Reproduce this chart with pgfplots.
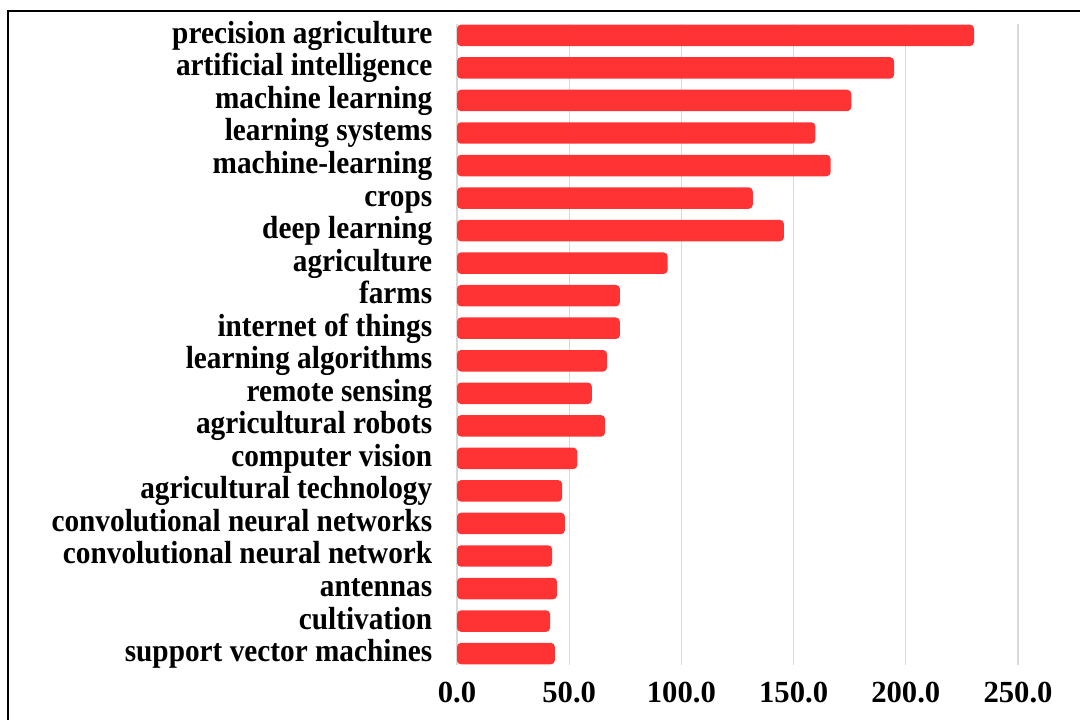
\documentclass[border=0pt]{standalone}
\usepackage{fontspec}
\setmainfont{Liberation Serif}
\usepackage{pgfplots}
\usepackage{pgfplotstable}
\pgfplotsset{compat=1.18}
\definecolor{barred}{RGB}{255,51,51}
\definecolor{gridgray}{RGB}{217,217,217}
\pgfplotstableread{
y value
19 230.4
18 194.8
17 175.7
16 159.7
15 166.5
14 131.8
13 145.7
12 93.9
11 72.6
10 72.6
9 66.9
8 60.1
7 66.0
6 53.6
5 46.9
4 48.1
3 42.4
2 44.6
1 41.5
0 43.6
}\datatable
\begin{document}
\begin{tikzpicture}
\path[use as bounding box] (0,0) rectangle (810pt,540pt);
\draw[line width=1.5pt, black] (6pt,-10pt) -- (6pt,531.75pt) -- (830pt,531.75pt);
\begin{axis}[
  at={(342.75pt,41.25pt)}, anchor=south west,
  scale only axis, width=420.75pt, height=480.75pt,
  xmin=0, xmax=250, ymin=-0.35, ymax=19.35,
  axis line style={draw=none},
  major tick length=0pt,
  xtick={0,50,100,150,200,250},
  xticklabels={0.0,50.0,100.0,150.0,200.0,250.0},
  xmajorgrids, grid style={draw=gridgray, line width=0.9pt},
  ytick={0,...,19},
  yticklabels={support vector machines,cultivation,antennas,convolutional neural network,convolutional neural networks,agricultural technology,computer vision,agricultural robots,remote sensing,learning algorithms,internet of things,farms,agriculture,deep learning,crops,machine-learning,learning systems,machine learning,artificial intelligence,precision agriculture},
  xticklabel style={font=\fontsize{23}{23}\selectfont\bfseries, anchor=north, inner sep=0pt, yshift=-12.75pt},
  yticklabel style={font=\fontsize{24}{24}\selectfont\bfseries, anchor=base east, inner sep=0pt, xshift=-18.4pt, yshift=-6pt, xscale=0.915},
  clip=false,
]
\addplot[xbar, bar width=0.66, fill=barred, draw=none, rounded corners=3pt] table[x=value, y=y] {\datatable};
\end{axis}
\end{tikzpicture}
\end{document}
